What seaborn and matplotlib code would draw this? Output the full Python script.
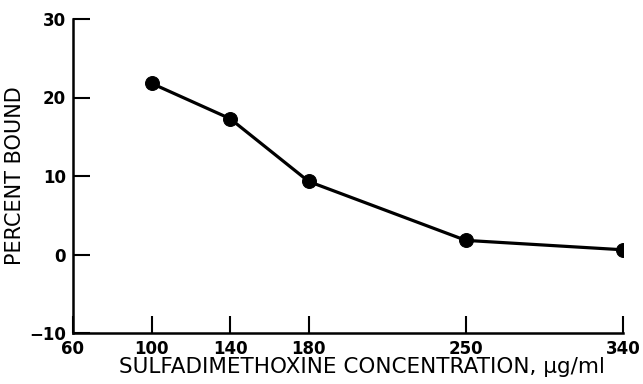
import numpy as np
import pandas as pd
import matplotlib
matplotlib.use("Agg")
import matplotlib.pyplot as plt
import seaborn as sns

concentration = [100, 140, 180, 250, 340]
percent_bound = [21.8, 17.3, 9.3, 1.8, 0.6]
x_ticks = [60, 100, 140, 180, 250, 340]
y_ticks = [-10, 0, 10, 20, 30]
tick_index = [0, 1, 2, 3, 5, 7]

sns.set_style("ticks")
plt.rcParams['font.family'] = ['DejaVu Sans']
plt.rcParams['text.color'] = 'black'
plt.rcParams['axes.labelcolor'] = 'black'

df = pd.DataFrame({"conc": concentration, "pb": percent_bound})

fig = plt.figure(figsize=(6.43, 3.84), dpi=100)
ax = fig.add_axes([73/643, 1-333/384, (623-73)/643, (333-19)/384])

fwd = lambda v: np.interp(v, x_ticks, tick_index)
inv = lambda v: np.interp(v, tick_index, x_ticks)
ax.set_xscale('function', functions=(fwd, inv))

sns.lineplot(data=df, x="conc", y="pb", ax=ax, color="black", linewidth=2.3,
             marker="o", markersize=10, markeredgecolor="black")

ax.set_xlim(60, 340)
ax.set_ylim(-10, 30)
ax.set_xticks(x_ticks)
ax.set_xticklabels([str(t) for t in x_ticks])
ax.set_yticks(y_ticks)
ax.set_yticklabels(["\u221210", "0", "10", "20", "30"])
ax.minorticks_off()
ax.tick_params(direction='in', length=12, width=1.5, labelsize=12, pad=5,
               colors='black')
for lab in ax.get_xticklabels() + ax.get_yticklabels():
    lab.set_fontweight('bold')
for s in ['left', 'bottom']:
    ax.spines[s].set_linewidth(1.8)
    ax.spines[s].set_color('black')
sns.despine(ax=ax)
ax.set_xlabel("SULFADIMETHOXINE CONCENTRATION, \u03bcg/ml", fontsize=15.5,
              fontweight='medium', color='black')
ax.xaxis.set_label_coords(0.525, -0.075, transform=ax.transAxes)
ax.xaxis.label.set_verticalalignment('top')
ax.set_ylabel("PERCENT BOUND", fontsize=15, labelpad=3, fontweight='medium',
              color='black')

fig.savefig("out.png", dpi=100)
